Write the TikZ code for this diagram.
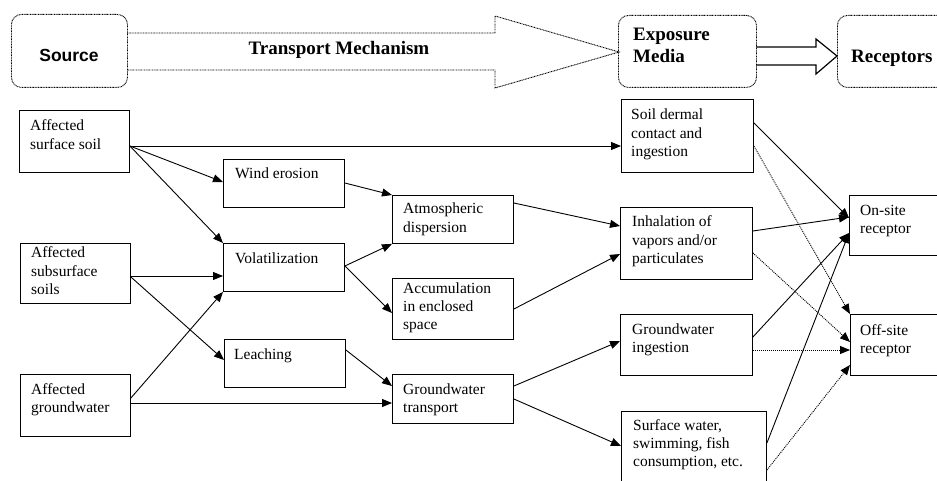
\documentclass[tikz,border=0pt]{standalone}
\usepackage{fontspec}
\setmainfont{Liberation Serif}
\newfontfamily\hsans{Liberation Sans}
\usetikzlibrary{arrows.meta,calc}
\newcommand\mylines[1]{\begin{tabular}[t]{@{}l@{}}#1\end{tabular}}
\begin{document}
\begin{tikzpicture}[x=1pt,y=-1pt,
  box/.style={draw, line width=0.9pt, rectangle, inner sep=0pt, anchor=north west},
  hbox/.style={draw, line width=0.9pt, dash pattern=on 0.9pt off 0.7pt, rounded corners=10pt, rectangle, inner sep=0pt, anchor=north west},
  txt/.style={inner sep=0pt, anchor=base west, font=\fontsize{15.5}{18.3}\selectfont},
  htxt/.style={inner sep=0pt, anchor=base west, font=\fontsize{19}{21}\selectfont\bfseries},
  conn/.style={line width=0.9pt, -{Triangle[length=10pt,width=8pt]}},
  dconn/.style={line width=0.9pt, dash pattern=on 1pt off 1pt, -{Triangle[length=10pt,width=8pt]}},
  bigarrow/.style={line width=0.9pt, dash pattern=on 0.9pt off 0.7pt, line join=miter},
  smallarrow/.style={line width=1.2pt, line join=miter}
]
\useasboundingbox (0,0) rectangle (937,481);
\clip (0,0) rectangle (937,481);

% ---------- header ----------
\node[hbox, minimum width=116pt, minimum height=73pt] (src) at (11,14) {};
\node[inner sep=0pt, anchor=base, font=\hsans\fontsize{17.5}{20}\selectfont\bfseries] (srct) at (69,62) {Source};
\node[hbox, minimum width=138pt, minimum height=72pt] (exp) at (618,15) {};
\node[htxt] (expt) at (633,41) {\mylines{Exposure\\[0.6pt]Media}};
\node[hbox, minimum width=130pt, minimum height=72pt] (rec) at (837,15) {};
\node[htxt] (rect) at (851,63) {Receptors};
\draw[bigarrow] (127,33) -- (495,33) -- (495,16) -- (619,52) -- (495,88) -- (495,70) -- (127,70);
\node[htxt, anchor=base] (tmt) at (339,55) {Transport Mechanism};
\draw[smallarrow] (756,47) -- (816,47) -- (816,39) -- (837,56) -- (816,74) -- (816,65) -- (756,65);

% ---------- boxes ----------
\node[box, minimum width=110pt, minimum height=62pt] (ass) at (19,110) {};
\node[txt] (asst) at (30,131) {\mylines{Affected\\surface soil}};
\node[box, minimum width=110pt, minimum height=60pt] (asub) at (20,243) {};
\node[txt] (asubt) at (31,258) {\mylines{Affected\\subsurface\\soils}};
\node[box, minimum width=110pt, minimum height=62pt] (agw) at (20,374) {};
\node[txt] (agwt) at (31,394) {\mylines{Affected\\groundwater}};

\node[box, minimum width=121pt, minimum height=48pt] (we) at (223,159) {};
\node[txt] (wet) at (235,179) {Wind erosion};
\node[box, minimum width=121pt, minimum height=48pt] (vol) at (223,243) {};
\node[txt] (volt) at (235,263) {Volatilization};
\node[box, minimum width=121pt, minimum height=48pt] (lea) at (224,339) {};
\node[txt] (leat) at (234,359) {Leaching};

\node[box, minimum width=121pt, minimum height=48pt] (atm) at (392,195) {};
\node[txt] (atmt) at (403,214) {\mylines{Atmospheric\\dispersion}};
\node[box, minimum width=121pt, minimum height=61pt] (acc) at (392,278) {};
\node[txt] (acct) at (403,293) {\mylines{Accumulation\\in enclosed\\space}};
\node[box, minimum width=121pt, minimum height=49pt] (gwt) at (392,374) {};
\node[txt] (gwtt) at (403,394) {\mylines{Groundwater\\transport}};

\node[box, minimum width=132pt, minimum height=73pt] (sd) at (621,99) {};
\node[txt] (sdt) at (631,120) {\mylines{Soil dermal\\contact and\\ingestion}};
\node[box, minimum width=132pt, minimum height=72pt] (inh) at (620,207) {};
\node[txt] (inht) at (632,227) {\mylines{Inhalation of\\vapors and/or\\particulates}};
\node[box, minimum width=132pt, minimum height=61pt] (gwi) at (620,314) {};
\node[txt] (gwit) at (632,334) {\mylines{Groundwater\\ingestion}};
\node[box, minimum width=145pt, minimum height=85pt] (sw) at (621,411) {};
\node[txt] (swt) at (633,430) {\mylines{Surface water,\\swimming, fish\\consumption, etc.}};

\node[box, minimum width=100pt, minimum height=60pt] (on) at (849,195) {};
\node[txt] (ont) at (860,215) {\mylines{On-site\\receptor}};
\node[box, minimum width=100pt, minimum height=61pt] (off) at (850,314) {};
\node[txt] (offt) at (860,335) {\mylines{Off-site\\receptor}};

% ---------- connectors ----------
\draw[conn] (ass.east |- 0,146) -- (sd.west |- 0,146);
\draw[conn] (ass.east |- 0,146) -- (we.west |- 0,182);
\draw[conn] (ass.east |- 0,146) -- (vol.north west);
\draw[conn] (asub.east |- 0,276) -- (vol.west |- 0,276);
\draw[conn] (asub.east |- 0,277) -- (lea.west |- 0,360);
\draw[conn] (agw.east |- 0,398) -- (vol.south west);
\draw[conn] (agw.east |- 0,403) -- (gwt.west |- 0,403);

\draw[conn] (we.east |- 0,183) -- (atm.north west);
\draw[conn] (vol.east |- 0,266) -- (atm.south west);
\draw[conn] (vol.east |- 0,266) -- (acc.west |- 0,313);
\draw[conn] (lea.east |- 0,350) -- (gwt.west |- 0,386);

\draw[conn] (atm.east |- 0,203) -- (inh.west |- 0,226);
\draw[conn] (acc.east |- 0,309) -- (inh.west |- 0,254);
\draw[conn] (gwt.east |- 0,386) -- (gwi.west |- 0,341);
\draw[conn] (gwt.east |- 0,399) -- (sw.west |- 0,446);

\draw[conn] (sd.east |- 0,123) -- (on.west |- 0,218);
\draw[dconn] (sd.east |- 0,146) -- (off.north west);
\draw[conn] (inh.east |- 0,231) -- (on.west |- 0,217);
\draw[dconn] (inh.east |- 0,253) -- (off.west |- 0,342);
\draw[conn] (gwi.east |- 0,337) -- (on.west |- 0,233);
\draw[dconn] (gwi.east |- 0,350) -- (off.west |- 0,350);
\draw[conn] (sw.east |- 0,443) -- (on.west |- 0,233);
\draw[dconn] (sw.east |- 0,470) -- (off.west |- 0,365);
\end{tikzpicture}
\end{document}
